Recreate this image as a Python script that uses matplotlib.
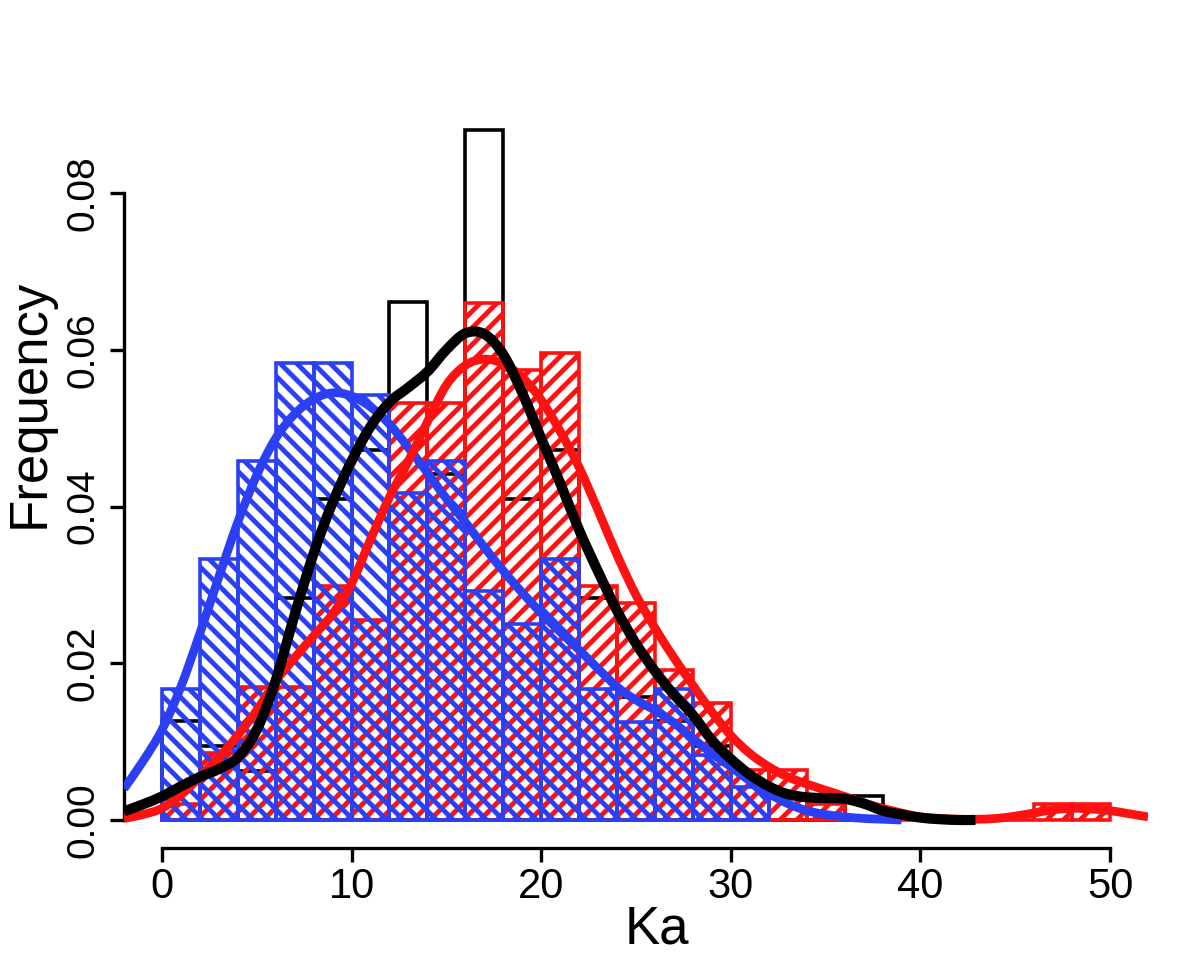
import matplotlib
matplotlib.use("Agg")
import matplotlib.pyplot as plt
from matplotlib.path import Path
from matplotlib.patches import PathPatch
import numpy as np

# ---------------- data ----------------
bin_width = 2
black_starts = np.arange(0, 38, 2)          # bins 0-2 ... 36-38
black_dens = [0.0126, 0.0094, 0.0063, 0.0283, 0.0409, 0.0472, 0.0661, 0.0441,
              0.0881, 0.0409, 0.0472, 0.0283, 0.0157, 0.0126, 0.0094, 0.0, 0.0,
              0.0031, 0.0031]

red_starts = np.arange(0, 50, 2)            # bins 0-2 ... 48-50
red_dens = [0.0021, 0.0085, 0.0170, 0.0170, 0.0298, 0.0255, 0.0532, 0.0532,
            0.0660, 0.0574, 0.0596, 0.0298, 0.0277, 0.0191, 0.0149, 0.0064,
            0.0064, 0.0021, 0.0, 0.0, 0.0, 0.0, 0.0, 0.0021, 0.0021]

blue_starts = np.arange(0, 32, 2)           # bins 0-2 ... 30-32
blue_dens = [0.0167, 0.0333, 0.0458, 0.0583, 0.0583, 0.0542, 0.0417, 0.0458,
             0.0292, 0.0250, 0.0333, 0.0167, 0.0125, 0.0167, 0.0083, 0.0042]

blue_curve_x = list(range(-2, 40))
blue_curve_y = [0.0040, 0.0075, 0.0115, 0.0170, 0.0238, 0.0310, 0.0380, 0.0440,
                0.0487, 0.0518, 0.0537, 0.0545, 0.0541, 0.0527, 0.0505, 0.0475,
                0.0443, 0.0410, 0.0380, 0.0348, 0.0318, 0.0290, 0.0264, 0.0240,
                0.0217, 0.0193, 0.0170, 0.0153, 0.0140, 0.0124, 0.0104, 0.0085,
                0.0068, 0.0050, 0.0034, 0.0021, 0.0012, 0.0007, 0.0004, 0.0002,
                0.0001, 0.0000]

red_curve_x = list(range(-2, 53))
red_curve_y = [0.0002, 0.0007, 0.0015, 0.0032, 0.0055, 0.0080, 0.0108, 0.0140,
               0.0177, 0.0207, 0.0235, 0.0263, 0.0302, 0.0358, 0.0412, 0.0458,
               0.0508, 0.0555, 0.0580, 0.0588, 0.0582, 0.0565, 0.0536, 0.0496,
               0.0450, 0.0395, 0.0338, 0.0287, 0.0245, 0.0207, 0.0172, 0.0138,
               0.0108, 0.0085, 0.0068, 0.0055, 0.0046, 0.0038, 0.0030, 0.0022,
               0.0015, 0.0009, 0.0004, 0.0002, 0.0001, 0.0001, 0.0002, 0.0005,
               0.0009, 0.0013, 0.0015, 0.0014, 0.0012, 0.0008, 0.0004]

black_curve_x = list(range(-2, 43)) + [42.9]
black_curve_y = [0.0011, 0.0020, 0.0030, 0.0043, 0.0055, 0.0065, 0.0080, 0.0115,
                 0.0178, 0.0262, 0.0340, 0.0405, 0.0458, 0.0502, 0.0533, 0.0552,
                 0.0572, 0.0600, 0.0621, 0.0620, 0.0594, 0.0545, 0.0487, 0.0430,
                 0.0370, 0.0317, 0.0267, 0.0225, 0.0190, 0.0160, 0.0134, 0.0102,
                 0.0078, 0.0058, 0.0043, 0.0033, 0.0029, 0.0028, 0.0027, 0.0021,
                 0.0012, 0.0007, 0.0003, 0.0001, 0.0000, 0.0000]

x_ticks = [0, 10, 20, 30, 40, 50]
y_ticks = [0.00, 0.02, 0.04, 0.06, 0.08]
y_tick_labels = ["0.00", "0.02", "0.04", "0.06", "0.08"]

# ---------------- style ----------------
RED = "#ff1111"
BLUE = "#2b40f5"
HATCH_LW = 3.5
plt.rcParams["font.family"] = ["Liberation Sans", "DejaVu Sans"]
plt.rcParams["hatch.linewidth"] = HATCH_LW


def smooth_path(xs, ys):
    """Path through the read points, drawn with cubic Bezier segments."""
    pts = np.column_stack([xs, ys]).astype(float)
    n = len(pts)
    verts = [pts[0]]
    codes = [Path.MOVETO]
    for i in range(n - 1):
        p0 = pts[max(i - 1, 0)]
        p1 = pts[i]
        p2 = pts[i + 1]
        p3 = pts[min(i + 2, n - 1)]
        c1 = p1 + (p2 - p0) / 6.0
        c2 = p2 - (p3 - p1) / 6.0
        verts += [c1, c2, p2]
        codes += [Path.CURVE4] * 3
    return Path(verts, codes)


W, H = 1200, 977
fig = plt.figure(figsize=(W / 100, H / 100), dpi=100)
# plot region in pixels: x 124..1148, y 102.7..847.6
ax = fig.add_axes([124 / W, 1 - 847.6 / H, (1148 - 124) / W, (847.6 - 102.7) / H])
ax.set_xlim(-2, 52)
ax.set_ylim(-0.00352, 0.09152)

edge_lw = 2.6
ax.bar(black_starts, black_dens, width=bin_width, align="edge", facecolor="none",
       edgecolor="black", linewidth=edge_lw, zorder=1)
red_bars = ax.bar(red_starts, red_dens, width=bin_width, align="edge",
                  facecolor="none", edgecolor=RED, linewidth=edge_lw,
                  hatch="//", zorder=2)
blue_bars = ax.bar(blue_starts, blue_dens, width=bin_width, align="edge",
                   facecolor="none", edgecolor=BLUE, linewidth=edge_lw,
                   hatch="\\\\", zorder=3)
for p in list(red_bars) + list(blue_bars):
    if hasattr(p, "set_hatch_linewidth"):
        p.set_hatch_linewidth(HATCH_LW)

for xs, ys, col, lw, z in [(blue_curve_x, blue_curve_y, BLUE, 6.3, 4),
                           (red_curve_x, red_curve_y, RED, 6.3, 5),
                           (black_curve_x, black_curve_y, "black", 7.3, 6)]:
    ax.add_patch(PathPatch(smooth_path(xs, ys), facecolor="none", edgecolor=col,
                           linewidth=lw, zorder=z, capstyle="butt",
                           joinstyle="round"))

for s in ["top", "right"]:
    ax.spines[s].set_visible(False)
ax.spines["left"].set_bounds(0, 0.08)
ax.spines["bottom"].set_bounds(0, 50)
for s in ["left", "bottom"]:
    ax.spines[s].set_linewidth(2.4)

ax.set_xticks(x_ticks)
ax.set_xticklabels([str(t) for t in x_ticks])
ax.set_yticks(y_ticks)
ax.set_yticklabels(y_tick_labels, rotation=90, va="center")
ax.tick_params(axis="both", length=10, width=2.4, direction="out")
ax.tick_params(axis="x", pad=4, labelsize=30)
ax.tick_params(axis="y", pad=6, labelsize=28)

fig.text(657 / W, 1 - 930 / H, "Ka", ha="center", va="center", fontsize=38)
fig.text(30 / W, 1 - 403 / H, "Frequency", ha="center", va="center",
         rotation=90, fontsize=38)

fig.savefig("out.png", dpi=100)
